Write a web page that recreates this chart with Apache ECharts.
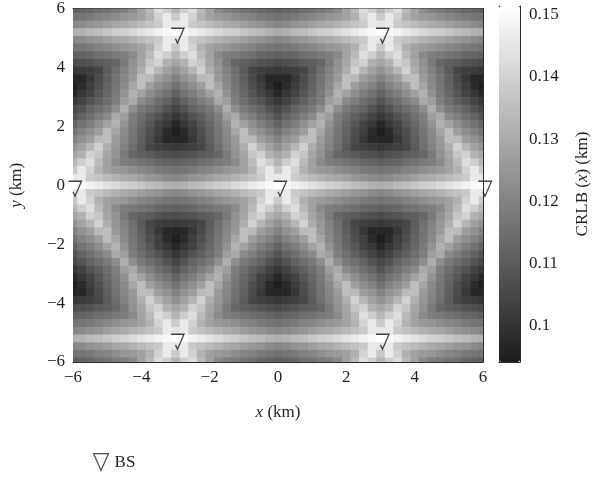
<!DOCTYPE html>
<html>
<head>
<meta charset="utf-8">
<script src="https://cdn.jsdelivr.net/npm/echarts@6/dist/echarts.min.js"></script>
<style>html,body{margin:0;padding:0;background:#fff}#c{width:592px;height:484px}</style>
</head>
<body>
<div id="c"></div>
<script>
// grid node positions (km)
const xNodes = [-6,-5.75,-5.5,-5.25,-5,-4.75,-4.5,-4.25,-4,-3.75,-3.5,-3.25,-3,-2.75,-2.5,-2.25,-2,-1.75,-1.5,-1.25,-1,-0.75,-0.5,-0.25,0,0.25,0.5,0.75,1,1.25,1.5,1.75,2,2.25,2.5,2.75,3,3.25,3.5,3.75,4,4.25,4.5,4.75,5,5.25,5.5,5.75,6];
const yNodes = [5.98,5.72,5.46,5.2,4.94,4.68,4.42,4.16,3.9,3.64,3.38,3.12,2.86,2.6,2.34,2.08,1.82,1.56,1.3,1.04,0.78,0.52,0.26,0,-0.26,-0.52,-0.78,-1.04,-1.3,-1.56,-1.82,-2.08,-2.34,-2.6,-2.86,-3.12,-3.38,-3.64,-3.9,-4.16,-4.42,-4.68,-4.94,-5.2,-5.46,-5.72,-5.98];
// CRLB(x), in metres (one row per yNode, one column per xNode)
const crlbMetres = [
[111,112,113,115,116,118,119,122,128,134,143,139,133,139,143,134,128,122,119,118,116,115,113,112,111,112,113,115,116,118,119,122,128,134,143,139,133,139,143,134,128,122,119,118,116,115,113,112,111],
[116,117,118,120,121,123,125,126,128,132,140,146,138,146,140,132,128,126,125,123,121,120,118,117,116,117,118,120,121,123,125,126,128,132,140,146,138,146,140,132,128,126,125,123,121,120,118,117,116],
[121,122,124,125,127,129,130,132,134,136,138,146,145,146,138,136,134,132,130,129,127,125,124,122,121,122,124,125,127,129,130,132,134,136,138,146,145,146,138,136,134,132,130,129,127,125,124,122,121],
[131,132,134,135,137,139,140,142,144,146,148,150,152,150,148,146,144,142,140,139,137,135,134,132,131,132,134,135,137,139,140,142,144,146,148,150,152,150,148,146,144,142,140,139,137,135,134,132,131],
[121,122,124,125,127,129,130,132,134,136,138,146,145,146,138,136,134,132,130,129,127,125,124,122,121,122,124,125,127,129,130,132,134,136,138,146,145,146,138,136,134,132,130,129,127,125,124,122,121],
[116,117,118,120,121,123,125,126,128,132,140,146,138,146,140,132,128,126,125,123,121,120,118,117,116,117,118,120,121,123,125,126,128,132,140,146,138,146,140,132,128,126,125,123,121,120,118,117,116],
[111,112,113,115,116,118,119,122,128,134,143,139,133,139,143,134,128,122,119,118,116,115,113,112,111,112,113,115,116,118,119,122,128,134,143,139,133,139,143,134,128,122,119,118,116,115,113,112,111],
[106,107,108,110,111,113,118,124,129,137,140,132,129,132,140,137,129,124,118,113,111,110,108,107,106,107,108,110,111,113,118,124,129,137,140,132,129,132,140,137,129,124,118,113,111,110,108,107,106],
[101,102,103,105,110,115,120,125,131,140,133,128,124,128,133,140,131,125,120,115,110,105,103,102,101,102,103,105,110,115,120,125,131,140,133,128,124,128,133,140,131,125,120,115,110,105,103,102,101],
[97,97,101,106,111,116,121,126,135,134,127,124,120,124,127,134,135,126,121,116,111,106,101,97,97,97,101,106,111,116,121,126,135,134,127,124,120,124,127,134,135,126,121,116,111,106,101,97,97],
[95,98,103,107,112,117,122,129,135,127,123,120,116,120,123,127,135,129,122,117,112,107,103,98,95,98,103,107,112,117,122,129,135,127,123,120,116,120,123,127,135,129,122,117,112,107,103,98,95],
[97,101,104,109,113,118,124,132,128,123,119,116,112,116,119,123,128,132,124,118,113,109,104,101,97,101,104,109,113,118,124,132,128,123,119,116,112,116,119,123,128,132,124,118,113,109,104,101,97],
[101,104,108,111,115,119,127,130,122,119,115,112,108,112,115,119,122,130,127,119,115,111,108,104,101,104,108,111,115,119,127,130,122,119,115,112,108,112,115,119,122,130,127,119,115,111,108,104,101],
[105,108,112,115,118,123,131,123,118,115,112,108,105,108,112,115,118,123,131,123,118,115,112,108,105,108,112,115,118,123,131,123,118,115,112,108,105,108,112,115,118,123,131,123,118,115,112,108,105],
[108,112,115,119,122,130,127,119,115,111,108,104,101,104,108,111,115,119,127,130,122,119,115,112,108,112,115,119,122,130,127,119,115,111,108,104,101,104,108,111,115,119,127,130,122,119,115,112,108],
[112,116,119,123,128,132,124,118,113,109,104,101,97,101,104,109,113,118,124,132,128,123,119,116,112,116,119,123,128,132,124,118,113,109,104,101,97,101,104,109,113,118,124,132,128,123,119,116,112],
[116,120,123,127,135,129,122,117,112,107,103,98,95,98,103,107,112,117,122,129,135,127,123,120,116,120,123,127,135,129,122,117,112,107,103,98,95,98,103,107,112,117,122,129,135,127,123,120,116],
[120,124,127,134,135,126,121,116,111,106,101,97,97,97,101,106,111,116,121,126,135,134,127,124,120,124,127,134,135,126,121,116,111,106,101,97,97,97,101,106,111,116,121,126,135,134,127,124,120],
[124,128,133,140,131,125,120,115,110,105,103,102,101,102,103,105,110,115,120,125,131,140,133,128,124,128,133,140,131,125,120,115,110,105,103,102,101,102,103,105,110,115,120,125,131,140,133,128,124],
[129,132,140,137,129,124,118,113,111,110,108,107,106,107,108,110,111,113,118,124,129,137,140,132,129,132,140,137,129,124,118,113,111,110,108,107,106,107,108,110,111,113,118,124,129,137,140,132,129],
[133,139,143,134,128,122,119,118,116,115,113,112,111,112,113,115,116,118,119,122,128,134,143,139,133,139,143,134,128,122,119,118,116,115,113,112,111,112,113,115,116,118,119,122,128,134,143,139,133],
[138,146,140,132,128,126,125,123,121,120,118,117,116,117,118,120,121,123,125,126,128,132,140,146,138,146,140,132,128,126,125,123,121,120,118,117,116,117,118,120,121,123,125,126,128,132,140,146,138],
[145,146,138,136,134,132,130,129,127,125,124,122,121,122,124,125,127,129,130,132,134,136,138,146,145,146,138,136,134,132,130,129,127,125,124,122,121,122,124,125,127,129,130,132,134,136,138,146,145],
[152,150,148,146,144,142,140,139,137,135,134,132,131,132,134,135,137,139,140,142,144,146,148,150,152,150,148,146,144,142,140,139,137,135,134,132,131,132,134,135,137,139,140,142,144,146,148,150,152],
[145,146,138,136,134,132,130,129,127,125,124,122,121,122,124,125,127,129,130,132,134,136,138,146,145,146,138,136,134,132,130,129,127,125,124,122,121,122,124,125,127,129,130,132,134,136,138,146,145],
[138,146,140,132,128,126,125,123,121,120,118,117,116,117,118,120,121,123,125,126,128,132,140,146,138,146,140,132,128,126,125,123,121,120,118,117,116,117,118,120,121,123,125,126,128,132,140,146,138],
[133,139,143,134,128,122,119,118,116,115,113,112,111,112,113,115,116,118,119,122,128,134,143,139,133,139,143,134,128,122,119,118,116,115,113,112,111,112,113,115,116,118,119,122,128,134,143,139,133],
[129,132,140,137,129,124,118,113,111,110,108,107,106,107,108,110,111,113,118,124,129,137,140,132,129,132,140,137,129,124,118,113,111,110,108,107,106,107,108,110,111,113,118,124,129,137,140,132,129],
[124,128,133,140,131,125,120,115,110,105,103,102,101,102,103,105,110,115,120,125,131,140,133,128,124,128,133,140,131,125,120,115,110,105,103,102,101,102,103,105,110,115,120,125,131,140,133,128,124],
[120,124,127,134,135,126,121,116,111,106,101,97,97,97,101,106,111,116,121,126,135,134,127,124,120,124,127,134,135,126,121,116,111,106,101,97,97,97,101,106,111,116,121,126,135,134,127,124,120],
[116,120,123,127,135,129,122,117,112,107,103,98,95,98,103,107,112,117,122,129,135,127,123,120,116,120,123,127,135,129,122,117,112,107,103,98,95,98,103,107,112,117,122,129,135,127,123,120,116],
[112,116,119,123,128,132,124,118,113,109,104,101,97,101,104,109,113,118,124,132,128,123,119,116,112,116,119,123,128,132,124,118,113,109,104,101,97,101,104,109,113,118,124,132,128,123,119,116,112],
[108,112,115,119,122,130,127,119,115,111,108,104,101,104,108,111,115,119,127,130,122,119,115,112,108,112,115,119,122,130,127,119,115,111,108,104,101,104,108,111,115,119,127,130,122,119,115,112,108],
[105,108,112,115,118,123,131,123,118,115,112,108,105,108,112,115,118,123,131,123,118,115,112,108,105,108,112,115,118,123,131,123,118,115,112,108,105,108,112,115,118,123,131,123,118,115,112,108,105],
[101,104,108,111,115,119,127,130,122,119,115,112,108,112,115,119,122,130,127,119,115,111,108,104,101,104,108,111,115,119,127,130,122,119,115,112,108,112,115,119,122,130,127,119,115,111,108,104,101],
[97,101,104,109,113,118,124,132,128,123,119,116,112,116,119,123,128,132,124,118,113,109,104,101,97,101,104,109,113,118,124,132,128,123,119,116,112,116,119,123,128,132,124,118,113,109,104,101,97],
[95,98,103,107,112,117,122,129,135,127,123,120,116,120,123,127,135,129,122,117,112,107,103,98,95,98,103,107,112,117,122,129,135,127,123,120,116,120,123,127,135,129,122,117,112,107,103,98,95],
[97,97,101,106,111,116,121,126,135,134,127,124,120,124,127,134,135,126,121,116,111,106,101,97,97,97,101,106,111,116,121,126,135,134,127,124,120,124,127,134,135,126,121,116,111,106,101,97,97],
[101,102,103,105,110,115,120,125,131,140,133,128,124,128,133,140,131,125,120,115,110,105,103,102,101,102,103,105,110,115,120,125,131,140,133,128,124,128,133,140,131,125,120,115,110,105,103,102,101],
[106,107,108,110,111,113,118,124,129,137,140,132,129,132,140,137,129,124,118,113,111,110,108,107,106,107,108,110,111,113,118,124,129,137,140,132,129,132,140,137,129,124,118,113,111,110,108,107,106],
[111,112,113,115,116,118,119,122,128,134,143,139,133,139,143,134,128,122,119,118,116,115,113,112,111,112,113,115,116,118,119,122,128,134,143,139,133,139,143,134,128,122,119,118,116,115,113,112,111],
[116,117,118,120,121,123,125,126,128,132,140,146,138,146,140,132,128,126,125,123,121,120,118,117,116,117,118,120,121,123,125,126,128,132,140,146,138,146,140,132,128,126,125,123,121,120,118,117,116],
[121,122,124,125,127,129,130,132,134,136,138,146,145,146,138,136,134,132,130,129,127,125,124,122,121,122,124,125,127,129,130,132,134,136,138,146,145,146,138,136,134,132,130,129,127,125,124,122,121],
[131,132,134,135,137,139,140,142,144,146,148,150,152,150,148,146,144,142,140,139,137,135,134,132,131,132,134,135,137,139,140,142,144,146,148,150,152,150,148,146,144,142,140,139,137,135,134,132,131],
[121,122,124,125,127,129,130,132,134,136,138,146,145,146,138,136,134,132,130,129,127,125,124,122,121,122,124,125,127,129,130,132,134,136,138,146,145,146,138,136,134,132,130,129,127,125,124,122,121],
[116,117,118,120,121,123,125,126,128,132,140,146,138,146,140,132,128,126,125,123,121,120,118,117,116,117,118,120,121,123,125,126,128,132,140,146,138,146,140,132,128,126,125,123,121,120,118,117,116],
[111,112,113,115,116,118,119,122,128,134,143,139,133,139,143,134,128,122,119,118,116,115,113,112,111,112,113,115,116,118,119,122,128,134,143,139,133,139,143,134,128,122,119,118,116,115,113,112,111]
];
// base stations (km)
const bsX = [-3, 3, -6, 0, 6, -3, 3];
const bsY = [5.196, 5.196, 0, 0, 0, -5.196, -5.196];
const colorbarTicks = [0.1, 0.11, 0.12, 0.13, 0.14, 0.15];
const colorbarMin = 0.0942, colorbarMax = 0.1514;

const cells = [];
crlbMetres.forEach((row, r) => row.forEach((v, c) => cells.push([xNodes[c], yNodes[r], v / 1000])));

const CELL_W = 0.25, CELL_H = 0.26;
const FONT = "'Liberation Serif','DejaVu Serif',serif";
const TXT = '#231f20';
const AX = '#2b2b2b';
const minus = v => (v < 0 ? '\u2212' + Math.abs(v) : String(v));

const chart = echarts.init(document.getElementById('c'), null, { renderer: 'canvas' });

function frameAxis(extra) {
  return Object.assign({
    type: 'value',
    axisLine: { show: true, onZero: false, lineStyle: { color: AX, width: 1 } },
    axisTick: { show: true, inside: true, length: 4, lineStyle: { color: AX, width: 1 } },
    axisLabel: { show: false },
    splitLine: { show: false }
  }, extra);
}

const option = {
  animation: false,
  backgroundColor: '#fff',
  grid: [
    { left: 73, top: 6, width: 410, height: 356 },
    { left: 499, top: 6, width: 21, height: 356 }
  ],
  visualMap: {
    type: 'continuous',
    min: colorbarMin, max: colorbarMax,
    dimension: 2, seriesIndex: 0,
    inRange: { color: ['#1c1c1c', '#ffffff'] },
    show: true, calculable: false, showLabel: false,
    orient: 'vertical', left: 499, top: 6, itemWidth: 21, itemHeight: 356,
    padding: 0, text: null, z: 1
  },
  xAxis: [
    frameAxis({
      gridIndex: 0, min: -6, max: 6, interval: 2, position: 'bottom',
      axisLabel: { show: true, formatter: minus, fontFamily: FONT, fontSize: 17, color: TXT, margin: 7 },
      name: '{i|x} (km)', nameLocation: 'middle', nameGap: 42,
      nameTextStyle: { fontFamily: FONT, fontSize: 17, color: TXT, rich: { i: { fontFamily: FONT, fontSize: 17, fontStyle: 'italic', color: TXT } } }
    }),
    frameAxis({ gridIndex: 0, min: -6, max: 6, interval: 2, position: 'top' }),
    frameAxis({ gridIndex: 1, min: 0, max: 1, position: 'bottom', axisTick: { show: false } }),
    frameAxis({ gridIndex: 1, min: 0, max: 1, position: 'top', axisTick: { show: false } })
  ],
  yAxis: [
    frameAxis({
      gridIndex: 0, min: -6, max: 6, interval: 2, position: 'left',
      axisLabel: { show: true, formatter: minus, fontFamily: FONT, fontSize: 17, color: TXT, margin: 8 },
      name: '{i|y} (km)', nameLocation: 'middle', nameGap: 48, nameRotate: 90,
      nameTextStyle: { fontFamily: FONT, fontSize: 17, color: TXT, rich: { i: { fontFamily: FONT, fontSize: 17, fontStyle: 'italic', color: TXT } } }
    }),
    frameAxis({ gridIndex: 0, min: -6, max: 6, interval: 2, position: 'right' }),
    frameAxis({
      gridIndex: 1, min: colorbarMin, max: colorbarMax, position: 'right',
      axisTick: { show: true, inside: true, length: 4, customValues: colorbarTicks, lineStyle: { color: AX } },
      axisLabel: { show: true, customValues: colorbarTicks, formatter: v => String(+(+v).toFixed(2)), fontFamily: FONT, fontSize: 17, color: TXT, margin: 9 },
      name: 'CRLB ({i|x}) (km)', nameLocation: 'middle', nameGap: 54, nameRotate: 90,
      nameTextStyle: { fontFamily: FONT, fontSize: 17, color: TXT, rich: { i: { fontFamily: FONT, fontSize: 17, fontStyle: 'italic', color: TXT } } }
    }),
    frameAxis({
      gridIndex: 1, min: colorbarMin, max: colorbarMax, position: 'left',
      axisTick: { show: true, inside: true, length: 4, customValues: colorbarTicks, lineStyle: { color: AX } }
    })
  ],
  legend: {
    data: [{ name: 'BS', icon: 'path://M0,0 L14,0 L7,16 Z' }],
    left: 88, top: 448, itemWidth: 17, itemHeight: 17, itemGap: 6,
    itemStyle: { color: 'rgba(0,0,0,0)', borderColor: TXT, borderWidth: 1.2 },
    textStyle: { fontFamily: FONT, fontSize: 17, color: TXT }
  },
  series: [
    {
      type: 'custom', name: 'CRLB', xAxisIndex: 0, yAxisIndex: 0, data: cells,
      encode: { x: 0, y: 1 }, silent: true, z: 1,
      renderItem: function (params, api) {
        const x = api.value(0), y = api.value(1);
        const p1 = api.coord([x - CELL_W / 2, y + CELL_H / 2]);
        const p2 = api.coord([x + CELL_W / 2, y - CELL_H / 2]);
        const cs = params.coordSys;
        const rect = echarts.graphic.clipRectByRect(
          { x: p1[0], y: p1[1], width: p2[0] - p1[0] + 0.6, height: p2[1] - p1[1] + 0.6 },
          { x: cs.x, y: cs.y, width: cs.width, height: cs.height }
        );
        return rect && { type: 'rect', shape: rect, style: { fill: api.visual('color') } };
      }
    },
    {
      type: 'scatter', name: 'BS', xAxisIndex: 0, yAxisIndex: 0,
      data: bsX.map((x, i) => [x, bsY[i]]),
      symbol: 'path://M0,0 L13,0 L6.5,15 L4.5,10.5', symbolSize: [13, 15], symbolOffset: [2, 3.5],
      itemStyle: { color: 'rgba(0,0,0,0)', borderColor: '#111', borderWidth: 1.3 },
      clip: false, silent: true, z: 5
    }
  ]
};
chart.setOption(option);
</script>
</body>
</html>
